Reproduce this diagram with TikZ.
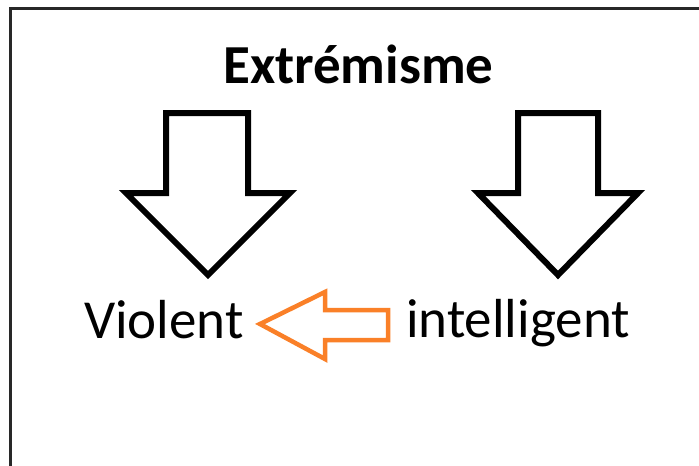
\documentclass[tikz,border=0pt]{standalone}
\usepackage{fontspec}
\setmainfont{Carlito}
\definecolor{framegray}{RGB}{40,40,40}
\definecolor{arroworange}{RGB}{250,128,40}
\tikzset{
  blockarrow/.style={draw=black, fill=white, line width=6pt, miter limit=10},
  orangearrow/.style={draw=arroworange, fill=white, line width=4.5pt, miter limit=10},
  label/.style={inner sep=0pt, anchor=base west, font=\fontsize{55}{60}\selectfont},
}
\begin{document}
\begin{tikzpicture}[x=1pt,y=-1pt]
\useasboundingbox (0,0) rectangle (699,466);
\clip (0,0) rectangle (699,466);
\draw[framegray, line width=3pt] (10,480) -- (10,8) -- (720,8);
% title
\node[label, font=\bfseries\fontsize{55}{60}\selectfont] (title) at (223,83) {Extrémisme};
% labels
\node[label] (violent) at (84,338) {Violent};
\node[label] (intel) at (406,337) {intelligent};
% left down arrow
\draw[blockarrow] (166,113) -- (248,113) -- (248,193) -- (290,193) -- (208,275)
  -- (126,193) -- (166,193) -- cycle;
% right down arrow
\draw[blockarrow] (518,113) -- (598,113) -- (598,193) -- (638,193) -- (558,275)
  -- (478,193) -- (518,193) -- cycle;
% orange left arrow
\draw[orangearrow] (388,310) -- (388,340) -- (325,340) -- (325,359) -- (260,324)
  -- (325,292) -- (325,310) -- cycle;
\end{tikzpicture}
\end{document}
